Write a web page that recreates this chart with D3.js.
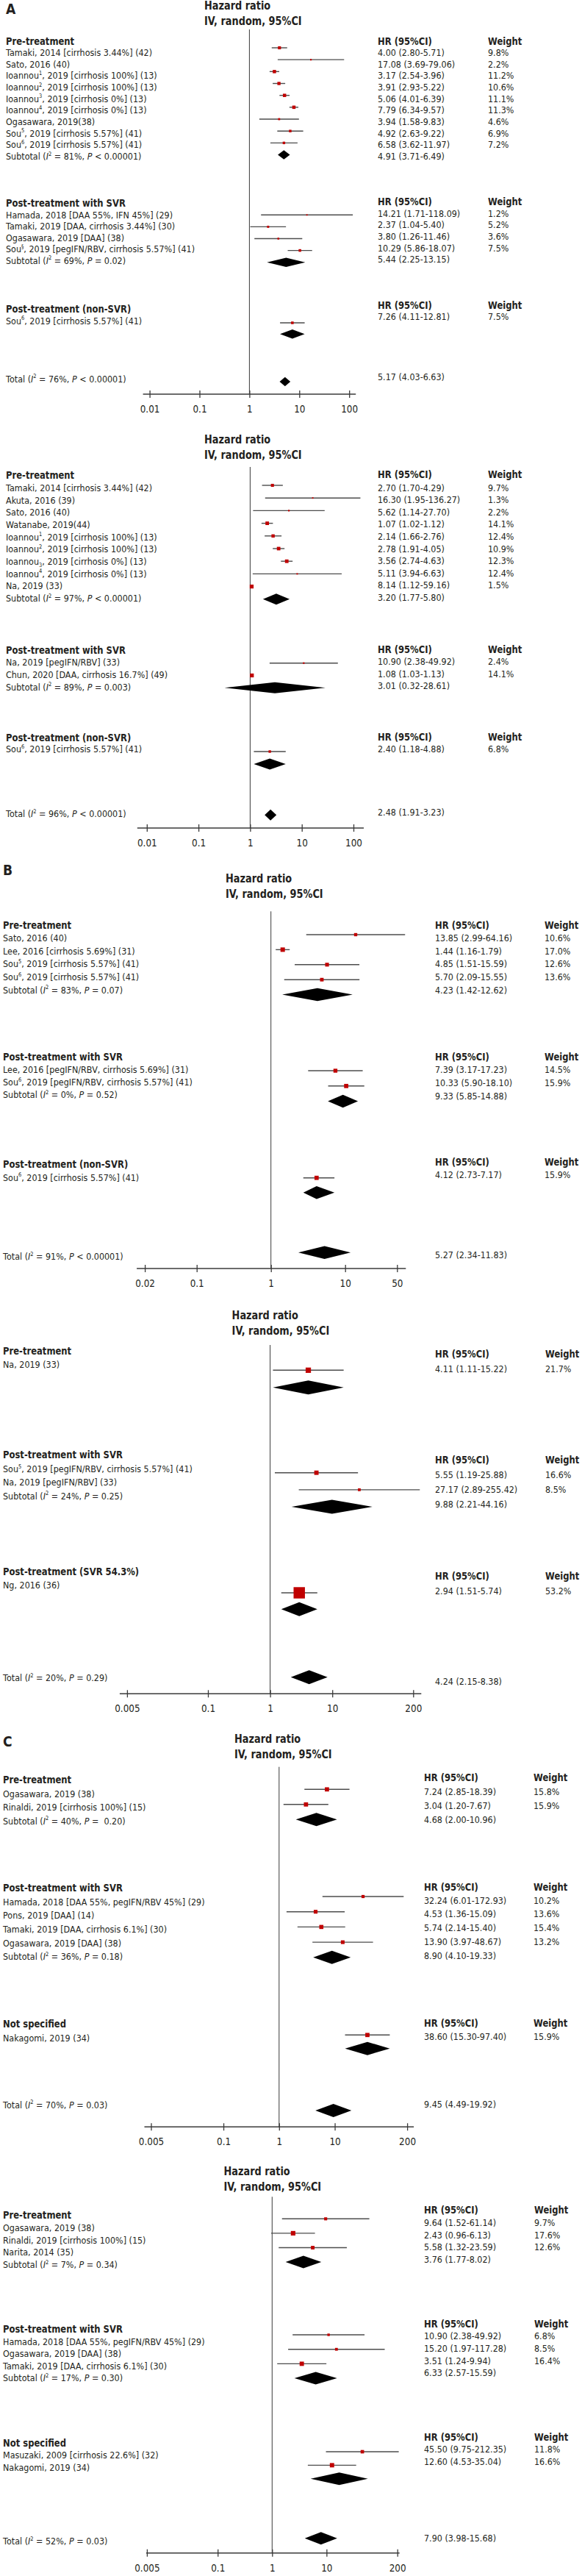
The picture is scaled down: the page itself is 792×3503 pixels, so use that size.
<!DOCTYPE html>
<html><head><meta charset="utf-8">
<script src="https://cdn.jsdelivr.net/npm/d3@7"></script>
<style>body{margin:0;background:#fff}svg{display:block}text{white-space:pre}</style>
</head><body>
<script>
// ---------------- DATA ----------------
// tick values / labels of the log axes
const ticksA = [0.01, 0.1, 1, 10, 100];
const ticksAlbl = ["0.01", "0.1", "1", "10", "100"];
const ticksB1 = [0.02, 0.1, 1, 10, 50];
const ticksB1lbl = ["0.02", "0.1", "1", "10", "50"];
const ticksWide = [0.005, 0.1, 1, 10, 200];
const ticksWidelbl = ["0.005", "0.1", "1", "10", "200"];

const groupTitles = ["Pre-treatment", "Post-treatment with SVR", "Post-treatment (non-SVR)", "Post-treatment (SVR 54.3%)", "Not specified"];

// each values row: [HR, 95%CI low, 95%CI high, weight %]
// "drawn": which study's estimate appears on each row of the plot, as seen in the picture
// ---- Panel A (first)
const a1PreStudies = ["Tamaki, 2014 [cirrhosis 3.44%] (42)", "Sato, 2016 (40)", "Ioannou^1^, 2019 [cirrhosis 100%] (13)", "Ioannou^2^, 2019 [cirrhosis 100%] (13)", "Ioannou^3^, 2019 [cirrhosis 0%] (13)", "Ioannou^4^, 2019 [cirrhosis 0%] (13)", "Ogasawara, 2019(38)", "Sou^5^, 2019 [cirrhosis 5.57%] (41)", "Sou^6^, 2019 [cirrhosis 5.57%] (41)"];
const a1PreValues = [[4.00, 2.80, 5.71, 9.8], [17.08, 3.69, 79.06, 2.2], [3.17, 2.54, 3.96, 11.2], [3.91, 2.93, 5.22, 10.6], [5.06, 4.01, 6.39, 11.1], [7.79, 6.34, 9.57, 11.3], [3.94, 1.58, 9.83, 4.6], [4.92, 2.63, 9.22, 6.9], [6.58, 3.62, 11.97, 7.2]];
const a1PreDrawn = [0, 1, 2, 3, 4, 5, 6, 8, 7];
const a1PreSub = ["Subtotal (*I*^2^ = 81%, *P* < 0.00001)", 4.91, 3.71, 6.49];
const a1SvrStudies = ["Hamada, 2018 [DAA 55%, IFN 45%] (29)", "Tamaki, 2019 [DAA, cirrhosis 3.44%] (30)", "Ogasawara, 2019 [DAA] (38)", "Sou^§^, 2019 [pegIFN/RBV, cirrhosis 5.57%] (41)"];
const a1SvrValues = [[14.21, 1.71, 118.09, 1.2], [2.37, 1.04, 5.40, 5.2], [3.80, 1.26, 11.46, 3.6], [10.29, 5.86, 18.07, 7.5]];
const a1SvrSub = ["Subtotal (*I*^2^ = 69%, *P* = 0.02)", 5.44, 2.25, 13.15];
const a1NonStudies = ["Sou^6^, 2019 [cirrhosis 5.57%] (41)"];
const a1NonValues = [[7.26, 4.11, 12.81, 7.5]];
const a1NonSub = [null, 7.26, 4.11, 12.81];
const a1Total = ["Total (*I*^2^ = 76%, *P* < 0.00001)", 5.17, 4.03, 6.63];

// ---- Panel A (second)
const a2PreStudies = ["Tamaki, 2014 [cirrhosis 3.44%] (42)", "Akuta, 2016 (39)", "Sato, 2016 (40)", "Watanabe, 2019(44)", "Ioannou^1^, 2019 [cirrhosis 100%] (13)", "Ioannou^2^, 2019 [cirrhosis 100%] (13)", "Ioannou_3_, 2019 [cirrhosis 0%] (13)", "Ioannou^4^, 2019 [cirrhosis 0%] (13)", "Na, 2019 (33)"];
const a2PreValues = [[2.70, 1.70, 4.29, 9.7], [16.30, 1.95, 136.27, 1.3], [5.62, 1.14, 27.70, 2.2], [1.07, 1.02, 1.12, 14.1], [2.14, 1.66, 2.76, 12.4], [2.78, 1.91, 4.05, 10.9], [3.56, 2.74, 4.63, 12.3], [5.11, 3.94, 6.63, 12.4], [8.14, 1.12, 59.16, 1.5]];
const a2PreDrawn = [0, 1, 2, 4, 5, 6, 7, 8, 3];
const a2PreSub = ["Subtotal (*I*^2^ = 97%, *P* < 0.00001)", 3.20, 1.77, 5.80];
const a2SvrStudies = ["Na, 2019 [pegIFN/RBV] (33)", "Chun, 2020 [DAA, cirrhosis 16.7%] (49)"];
const a2SvrValues = [[10.90, 2.38, 49.92, 2.4], [1.08, 1.03, 1.13, 14.1]];
const a2SvrSub = ["Subtotal (*I*^2^ = 89%, *P* = 0.003)", 3.01, 0.32, 28.61];
const a2NonStudies = ["Sou^6^, 2019 [cirrhosis 5.57%] (41)"];
const a2NonValues = [[2.40, 1.18, 4.88, 6.8]];
const a2NonSub = [null, 2.40, 1.18, 4.88];
const a2Total = ["Total (*I*^2^ = 96%, *P* < 0.00001)", 2.48, 1.91, 3.23];

// ---- Panel B (first)
const b1PreStudies = ["Sato, 2016 (40)", "Lee, 2016 [cirrhosis 5.69%] (31)", "Sou^5^, 2019 [cirrhosis 5.57%] (41)", "Sou^6^, 2019 [cirrhosis 5.57%] (41)"];
const b1PreValues = [[13.85, 2.99, 64.16, 10.6], [1.44, 1.16, 1.79, 17.0], [4.85, 1.51, 15.59, 12.6], [5.70, 2.09, 15.55, 13.6]];
const b1PreDrawn = [0, 1, 3, 2];
const b1PreSub = ["Subtotal (*I*^2^ = 83%, *P* = 0.07)", 4.23, 1.42, 12.62];
const b1SvrStudies = ["Lee, 2016 [pegIFN/RBV, cirrhosis 5.69%] (31)", "Sou^6^, 2019 [pegIFN/RBV, cirrhosis 5.57%] (41)"];
const b1SvrValues = [[7.39, 3.17, 17.23, 14.5], [10.33, 5.90, 18.10, 15.9]];
const b1SvrSub = ["Subtotal (*I*^2^ = 0%, *P* = 0.52)", 9.33, 5.85, 14.88];
const b1NonStudies = ["Sou^6^, 2019 [cirrhosis 5.57%] (41)"];
const b1NonValues = [[4.12, 2.73, 7.17, 15.9]];
const b1NonSub = [null, 4.12, 2.73, 7.17];
const b1Total = ["Total (*I*^2^ = 91%, *P* < 0.00001)", 5.27, 2.34, 11.83];

// ---- Panel B (second)
const b2PreStudies = ["Na, 2019 (33)"];
const b2PreValues = [[4.11, 1.11, 15.22, 21.7]];
const b2PreSub = [null, 4.11, 1.11, 15.22];
const b2SvrStudies = ["Sou^5^, 2019 [pegIFN/RBV, cirrhosis 5.57%] (41)", "Na, 2019 [pegIFN/RBV] (33)"];
const b2SvrValues = [[5.55, 1.19, 25.88, 16.6], [27.17, 2.89, 255.42, 8.5]];
const b2SvrSub = ["Subtotal (*I*^2^ = 24%, *P* = 0.25)", 9.88, 2.21, 44.16];
const b2Svr54Studies = ["Ng, 2016 (36)"];
const b2Svr54Values = [[2.94, 1.51, 5.74, 53.2]];
const b2Svr54Sub = [null, 2.94, 1.51, 5.74];
const b2Total = ["Total (*I*^2^ = 20%, *P* = 0.29)", 4.24, 2.15, 8.38];

// ---- Panel C (first)
const c1PreStudies = ["Ogasawara, 2019 (38)", "Rinaldi, 2019 [cirrhosis 100%] (15)"];
const c1PreValues = [[7.24, 2.85, 18.39, 15.8], [3.04, 1.20, 7.67, 15.9]];
const c1PreSub = ["Subtotal (*I*^2^ = 40%, *P* =  0.20)", 4.68, 2.00, 10.96];
const c1SvrStudies = ["Hamada, 2018 [DAA 55%, pegIFN/RBV 45%] (29)", "Pons, 2019 [DAA] (14)", "Tamaki, 2019 [DAA, cirrhosis 6.1%] (30)", "Ogasawara, 2019 [DAA] (38)"];
const c1SvrValues = [[32.24, 6.01, 172.93, 10.2], [4.53, 1.36, 15.09, 13.6], [5.74, 2.14, 15.40, 15.4], [13.90, 3.97, 48.67, 13.2]];
const c1SvrSub = ["Subtotal (*I*^2^ = 36%, *P* = 0.18)", 8.90, 4.10, 19.33];
const c1NsStudies = ["Nakagomi, 2019 (34)"];
const c1NsValues = [[38.60, 15.30, 97.40, 15.9]];
const c1NsSub = [null, 38.60, 15.30, 97.40];
const c1Total = ["Total (*I*^2^ = 70%, *P* = 0.03)", 9.45, 4.49, 19.92];

// ---- Panel C (second)
const c2PreStudies = ["Ogasawara, 2019 (38)", "Rinaldi, 2019 [cirrhosis 100%] (15)", "Narita, 2014 (35)"];
const c2PreValues = [[9.64, 1.52, 61.14, 9.7], [2.43, 0.96, 6.13, 17.6], [5.58, 1.32, 23.59, 12.6]];
const c2PreSub = ["Subtotal (*I*^2^ = 7%, *P* = 0.34)", 3.76, 1.77, 8.02];
const c2SvrStudies = ["Hamada, 2018 [DAA 55%, pegIFN/RBV 45%] (29)", "Ogasawara, 2019 [DAA] (38)", "Tamaki, 2019 [DAA, cirrhosis 6.1%] (30)"];
const c2SvrValues = [[10.90, 2.38, 49.92, 6.8], [15.20, 1.97, 117.28, 8.5], [3.51, 1.24, 9.94, 16.4]];
const c2SvrSub = ["Subtotal (*I*^2^ = 17%, *P* = 0.30)", 6.33, 2.57, 15.59];
const c2NsStudies = ["Masuzaki, 2009 [cirrhosis 22.6%] (32)", "Nakagomi, 2019 (34)"];
const c2NsValues = [[45.50, 9.75, 212.35, 11.8], [12.60, 4.53, 35.04, 16.6]];
const c2NsSub = [null, 17.1, 5.1, 57.5];
const c2Total = ["Total (*I*^2^ = 52%, *P* = 0.03)", 7.90, 3.98, 15.68];

// ---------------- LAYOUT ----------------
const W = 792, H = 3503;
const FONT = "'DejaVu Sans', Verdana, sans-serif";
const SX = 0.86;           // horizontal squeeze of the Tahoma-like lettering
const INK = "#231f20";

const panels = [
  { letter: "A", letterY: 11.7, headX: 278, hrY: 7.5, ivY: 28.7, nullTop: 40, axisY: 536,
    ticks: ticksA, tickLabels: ticksAlbl, px: [203.6, 475.2], pad: [9, 9], leftX: 8, hrX: 514, wtX: 664, dh: 12.5,
    groups: [
      { t: 0, studies: a1PreStudies, values: a1PreValues, drawn: a1PreDrawn, sub: a1PreSub, tY: 55.7, hY: 55.7, l: [71.3, 15.67], r: [71.3, 15.67], m: [65, 16.17] },
      { t: 1, studies: a1SvrStudies, values: a1SvrValues, sub: a1SvrSub, tY: 276, hY: 274.3, l: [292.3, 15.4], r: [290, 15.7], m: [292.3, 16.1] },
      { t: 2, studies: a1NonStudies, values: a1NonValues, sub: a1NonSub, tY: 420, hY: 415, l: [436, 15], r: [430.7, 15], m: [439, 15.3] }
    ], total: a1Total, tot: { l: 515, r: 512.3, m: 519 } },
  { letter: null, headX: 278, hrY: 597.7, ivY: 618.7, nullTop: 635, axisY: 1126,
    ticks: ticksA, tickLabels: ticksAlbl, px: [199.8, 481.0], pad: [13, 14], leftX: 8, hrX: 514, wtX: 664, dh: 15,
    groups: [
      { t: 0, studies: a2PreStudies, values: a2PreValues, drawn: a2PreDrawn, sub: a2PreSub, tY: 646, hY: 645, l: [663.3, 16.67], r: [663, 16.6], m: [660, 17.2] },
      { t: 1, studies: a2SvrStudies, values: a2SvrValues, sub: a2SvrSub, tY: 884.3, hY: 882.7, l: [900.7, 16.7], r: [899.3, 16.7], m: [901.7, 16.8] },
      { t: 2, studies: a2NonStudies, values: a2NonValues, sub: a2NonSub, tY: 1002.7, hY: 1001.7, l: [1018.7, 17], r: [1018.3, 17], m: [1022, 17] }
    ], total: a2Total, tot: { l: 1106.7, r: 1104, m: 1108.3 } },
  { letter: "B", letterY: 1182.7, headX: 307, hrY: 1195, ivY: 1216, nullTop: 1239.3, axisY: 1725,
    ticks: ticksB1, tickLabels: ticksB1lbl, px: [197.1, 540.3], pad: [11, 12], leftX: 4, hrX: 592, wtX: 741, dh: 17.5,
    groups: [
      { t: 0, studies: b1PreStudies, values: b1PreValues, drawn: b1PreDrawn, sub: b1PreSub, tY: 1257.7, hY: 1257.7, l: [1275.3, 17.67], r: [1275.3, 17.67], m: [1271, 20.4] },
      { t: 1, studies: b1SvrStudies, values: b1SvrValues, sub: b1SvrSub, tY: 1437.3, hY: 1437.3, l: [1454.7, 16.8], r: [1454.7, 17.6], m: [1456, 20.8] },
      { t: 2, studies: b1NonStudies, values: b1NonValues, sub: b1NonSub, tY: 1583.3, hY: 1580, l: [1601, 17], r: [1597.7, 17], m: [1601.7, 20] }
    ], total: b1Total, tot: { l: 1708.3, r: 1706.7, m: 1703.3 } },
  { letter: null, headX: 315.6, hrY: 1788.3, ivY: 1810, nullTop: 1829, axisY: 2303.3,
    ticks: ticksWide, tickLabels: ticksWidelbl, px: [172.9, 562.3], pad: [10, 11], leftX: 4, hrX: 592, wtX: 742, dh: 19,
    groups: [
      { t: 0, studies: b2PreStudies, values: b2PreValues, sub: b2PreSub, tY: 1836.7, hY: 1841, l: [1855.7, 18], r: [1861.7, 20], m: [1863.3, 23.4] },
      { t: 1, studies: b2SvrStudies, values: b2SvrValues, sub: b2SvrSub, tY: 1978.3, hY: 1985, l: [1997.3, 18.35], r: [2005, 20.35], m: [2002.7, 23.15] },
      { t: 3, studies: b2Svr54Studies, values: b2Svr54Values, sub: b2Svr54Sub, tY: 2136.7, hY: 2143.3, l: [2155.7, 18], r: [2163.3, 20], m: [2166, 22.3] }
    ], total: b2Total, tot: { l: 2281.7, r: 2286, m: 2280.7 } },
  { letter: "C", letterY: 2367.3, headX: 319, hrY: 2364.3, ivY: 2385.7, nullTop: 2402.7, axisY: 2892.3,
    ticks: ticksWide, tickLabels: ticksWidelbl, px: [205.5, 554.1], pad: [9, 9], leftX: 4, hrX: 577, wtX: 726, dh: 18,
    groups: [
      { t: 0, studies: c1PreStudies, values: c1PreValues, sub: c1PreSub, tY: 2420, hY: 2417.3, l: [2439.3, 18.35], r: [2436.7, 18.7], m: [2433.3, 20.5] },
      { t: 1, studies: c1SvrStudies, values: c1SvrValues, sub: c1SvrSub, tY: 2567.3, hY: 2565.7, l: [2586, 18.7], r: [2584, 18.8], m: [2579, 20.7] },
      { t: 4, studies: c1NsStudies, values: c1NsValues, sub: c1NsSub, tY: 2752.3, hY: 2751, l: [2771, 18], r: [2769.3, 18], m: [2767.3, 18.4] }
    ], total: c1Total, tot: { l: 2862, r: 2861, m: 2870 } },
  { letter: null, headX: 304.5, hrY: 2952.3, ivY: 2973.3, nullTop: 2987.3, axisY: 3471.7,
    ticks: ticksWide, tickLabels: ticksWidelbl, px: [199.9, 540.7], pad: [1, 3], leftX: 4, hrX: 577, wtX: 727, dh: 17,
    groups: [
      { t: 0, studies: c2PreStudies, values: c2PreValues, sub: c2PreSub, tY: 3012.3, hY: 3005, l: [3029.3, 16.67], r: [3022.3, 16.67], m: [3017.3, 19.6] },
      { t: 1, studies: c2SvrStudies, values: c2SvrValues, sub: c2SvrSub, tY: 3167.3, hY: 3160, l: [3184, 16.6], r: [3176.7, 16.7], m: [3175, 19.7] },
      { t: 4, studies: c2NsStudies, values: c2NsValues, sub: c2NsSub, tY: 3321.7, hY: 3314, l: [3338.7, 17], r: [3330.7, 16.6], m: [3334, 18.35] }
    ], total: c2Total, tot: { l: 3455.7, r: 3451.7, m: 3451.7 } }
];

// ---------------- DRAWING ----------------
const svg = d3.select("body").append("svg").attr("width", W).attr("height", H).attr("viewBox", `0 0 ${W} ${H}`);
svg.append("rect").attr("width", W).attr("height", H).attr("fill", "#fff");

function richText(g, x, y, str, o = {}) {
  const size = o.size || 13;
  const t = g.append("text")
    .attr("transform", `translate(${x},${y + size * 0.36}) scale(${SX},1)`)
    .attr("font-family", FONT).attr("font-size", size)
    .attr("font-weight", o.bold ? "bold" : "normal")
    .attr("text-anchor", o.anchor || "start")
    .attr("fill", INK);
  const parts = str.split(/(\^[^^]*\^|_[^_]*_|\*[^*]*\*)/).filter(p => p.length);
  let shift = 0;
  parts.forEach(p => {
    let kind = null, s = p;
    if (p.length > 1 && p[0] === "^" && p.endsWith("^")) { kind = "sup"; s = p.slice(1, -1); }
    else if (p.length > 1 && p[0] === "_" && p.endsWith("_")) { kind = "sub"; s = p.slice(1, -1); }
    else if (p.length > 1 && p[0] === "*" && p.endsWith("*")) { kind = "it"; s = p.slice(1, -1); }
    const ts = t.append("tspan").text(s);
    const target = kind === "sup" ? -size * 0.42 : kind === "sub" ? size * 0.22 : 0;
    if (target !== shift) { ts.attr("dy", target - shift); shift = target; }
    if (kind === "sup" || kind === "sub") ts.attr("font-size", size * 0.6);
    if (kind === "it") ts.attr("font-style", "italic");
  });
  return t;
}
const fmtCI = (e, lo, hi) => `${e.toFixed(2)} (${lo.toFixed(2)}-${hi.toFixed(2)})`;
const boxSide = w => 1.6 + 0.26 * w;

function diamond(g, x, y, e, lo, hi, h) {
  const p = d3.path();
  p.moveTo(x(lo), y); p.lineTo(x(e), y - h / 2); p.lineTo(x(hi), y); p.lineTo(x(e), y + h / 2); p.closePath();
  g.append("path").attr("d", p.toString()).attr("fill", "#000");
}

panels.forEach(P => {
  const g = svg.append("g");
  const x = d3.scaleLog().domain([P.ticks[0], P.ticks[P.ticks.length - 1]]).range(P.px);

  if (P.letter) richText(g, P.leftX, P.letterY, P.letter, { bold: true, size: 20 });
  richText(g, P.headX, P.hrY, "Hazard ratio", { bold: true, size: 15 });
  richText(g, P.headX, P.ivY, "IV, random, 95%CI", { bold: true, size: 15 });

  // null line
  g.append("line").attr("x1", x(1)).attr("x2", x(1)).attr("y1", P.nullTop).attr("y2", P.axisY)
    .attr("stroke", "#3a3a3a").attr("stroke-width", 1);

  const marks = g.append("g");
  P.groups.forEach(G => {
    richText(g, P.leftX, G.tY, groupTitles[G.t], { bold: true, size: 13.5 });
    richText(g, P.hrX, G.hY, "HR (95%CI)", { bold: true, size: 13.5 });
    richText(g, P.wtX, G.hY, "Weight", { bold: true, size: 13.5 });
    G.studies.forEach((s, i) => {
      const v = G.values[i];
      richText(g, P.leftX, G.l[0] + i * G.l[1], s);
      richText(g, P.hrX, G.r[0] + i * G.r[1], fmtCI(v[0], v[1], v[2]));
      richText(g, P.wtX, G.r[0] + i * G.r[1], v[3].toFixed(1) + "%");
      const d = G.values[G.drawn ? G.drawn[i] : i];
      const my = G.m[0] + i * G.m[1];
      marks.append("line").attr("x1", x(d[1])).attr("x2", x(d[2])).attr("y1", my).attr("y2", my)
        .attr("stroke", "#4d4d4d").attr("stroke-width", 1.4);
      const s2 = boxSide(d[3]);
      marks.append("rect").attr("x", x(d[0]) - s2 / 2).attr("y", my - s2 / 2).attr("width", s2).attr("height", s2)
        .attr("fill", "#c00000");
    });
    const n = G.studies.length;
    if (G.sub) {
      if (G.sub[0]) {
        richText(g, P.leftX, G.l[0] + n * G.l[1], G.sub[0]);
        richText(g, P.hrX, G.r[0] + n * G.r[1], fmtCI(G.sub[1], G.sub[2], G.sub[3]));
      }
      diamond(marks, x, G.m[0] + n * G.m[1], G.sub[1], G.sub[2], G.sub[3], P.dh);
    }
  });

  // total
  richText(g, P.leftX, P.tot.l, P.total[0]);
  richText(g, P.hrX, P.tot.r, fmtCI(P.total[1], P.total[2], P.total[3]));
  diamond(marks, x, P.tot.m, P.total[1], P.total[2], P.total[3], P.dh);

  // axis
  const axG = g.append("g").attr("transform", `translate(0,${P.axisY})`)
    .call(d3.axisBottom(x).tickValues(P.ticks)
      .tickFormat(d => P.tickLabels[P.ticks.indexOf(d)])
      .tickSizeInner(5).tickSizeOuter(0));
  axG.attr("font-family", null).attr("font-size", null);
  axG.select(".domain").remove();
  axG.insert("line", ":first-child")
    .attr("x1", P.px[0] - P.pad[0]).attr("x2", P.px[1] + P.pad[1]).attr("y1", 0).attr("y2", 0)
    .attr("stroke", "#3a3a3a").attr("stroke-width", 1.5);
  axG.selectAll(".tick line").attr("y1", -5).attr("y2", 5).attr("stroke", "#3a3a3a").attr("stroke-width", 1.3);
  axG.selectAll(".tick text").attr("y", null).attr("dy", null)
    .attr("transform", `translate(0,${20 + 14 * 0.36}) scale(${SX},1)`)
    .attr("font-family", FONT).attr("font-size", 14).attr("fill", INK);
});
</script>
</body></html>
